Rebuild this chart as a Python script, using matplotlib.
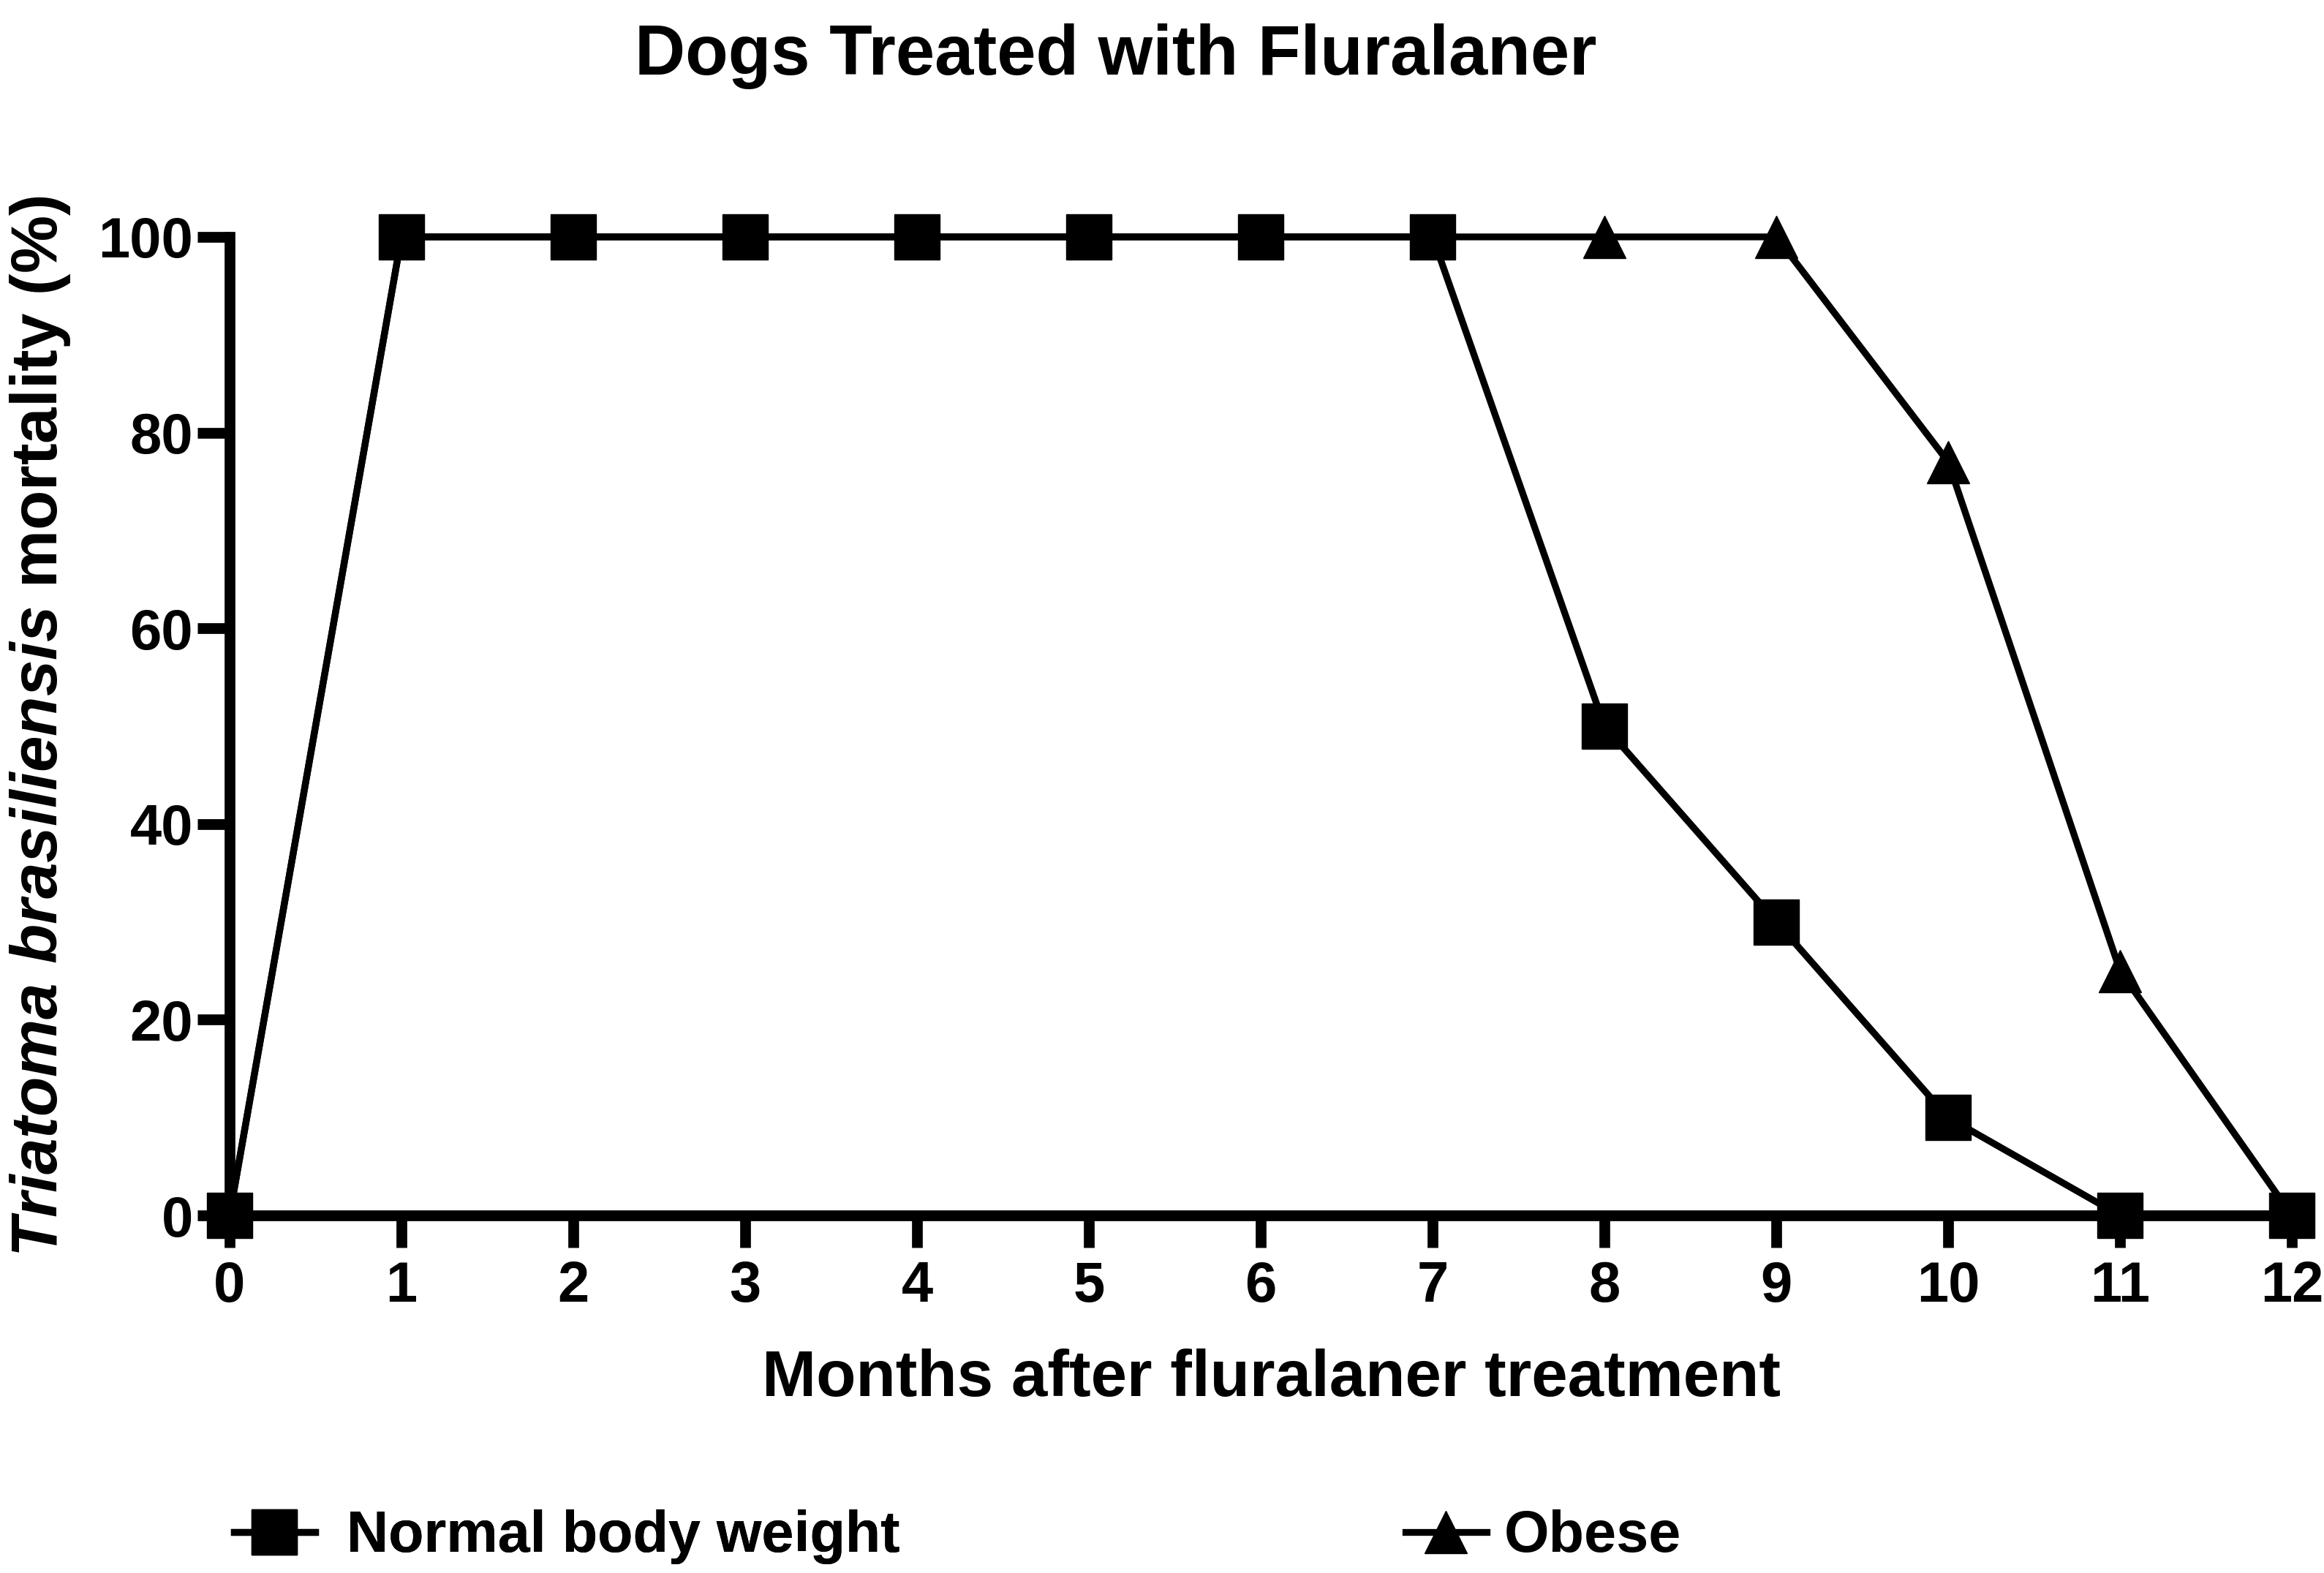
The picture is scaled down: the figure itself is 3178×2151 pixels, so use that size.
import matplotlib
matplotlib.use("Agg")
import matplotlib.pyplot as plt

plt.rcParams['font.family'] = ['Liberation Sans', 'DejaVu Sans']
plt.rcParams['font.weight'] = 'bold'
plt.rcParams['axes.labelweight'] = 'bold'
plt.rcParams['mathtext.fontset'] = 'custom'
plt.rcParams['mathtext.rm'] = 'Liberation Sans:bold'
plt.rcParams['mathtext.it'] = 'Liberation Sans:italic:bold'

# data
months = [0, 1, 2, 3, 4, 5, 6, 7, 8, 9, 10, 11, 12]
normal_weight = [0, 100, 100, 100, 100, 100, 100, 100, 50, 30, 10, 0, 0]
obese = [0, 100, 100, 100, 100, 100, 100, 100, 100, 100, 77, 25, 0]
yticks = [0, 20, 40, 60, 80, 100]

fig = plt.figure(figsize=(31.78, 21.51), dpi=100)
ax = fig.add_axes([0.0988, 0.2273, 0.8874, 0.6221])

lw = 6.7
ax.plot(months, obese, color='black', lw=lw, marker='^', ms=42,
        clip_on=False, zorder=3, label='Obese')
ax.plot(months, normal_weight, color='black', lw=lw, marker='s', ms=44,
        clip_on=False, zorder=4, label='Normal body weight')

ax.set_xlim(0, 12)
ax.set_ylim(0, 100)
ax.set_xticks(months)
ax.set_yticks(yticks)

for side in ['top', 'right']:
    ax.spines[side].set_visible(False)
for side in ['left', 'bottom']:
    ax.spines[side].set_linewidth(10.6)
    ax.spines[side].set_capstyle('projecting')

ax.tick_params(axis='both', length=32, width=10.6, labelsize=56)
ax.tick_params(axis='x', pad=12)
ax.tick_params(axis='y', pad=4)

ax.set_xlabel('Months after fluralaner treatment', fontsize=64,
              fontweight='bold', va='center')
ax.xaxis.set_label_coords(0.505, -0.167)
ax.set_ylabel(r'$\mathit{Triatoma\ brasiliensis}$ mortality (%)', fontsize=64,
              fontweight='bold', va='center')
ax.yaxis.set_label_coords(-0.092, 0.5)

fig.text(0.48, 0.985, 'Dogs Treated with Fluralaner', fontsize=69,
         fontweight='bold', ha='center', va='top')

h_obese, h_normal = ax.get_legend_handles_labels()[0]
leg1 = fig.legend([h_normal], ['Normal body weight'], loc='center left',
                  bbox_to_anchor=(0.1007, 0.0228), frameon=False, fontsize=57,
                  borderpad=0, borderaxespad=0, handlelength=1.4,
                  handletextpad=0.55)
fig.add_artist(leg1)
fig.legend([h_obese], ['Obese'], loc='center left',
           bbox_to_anchor=(0.6048, 0.0228), frameon=False, fontsize=57,
           borderpad=0, borderaxespad=0, handlelength=1.4,
           handletextpad=0.3)

fig.savefig('out.png', dpi=100)
